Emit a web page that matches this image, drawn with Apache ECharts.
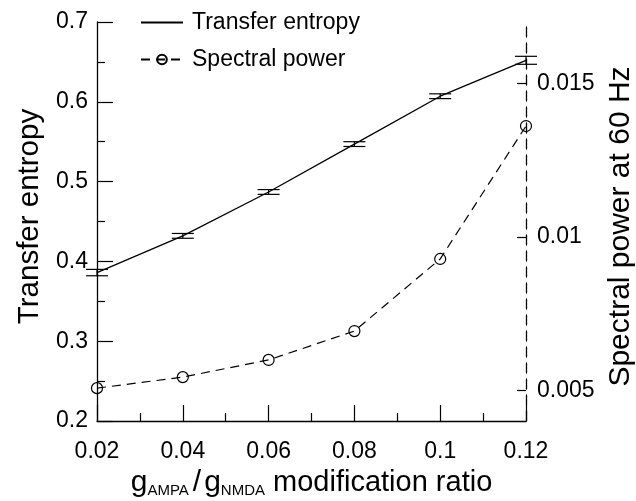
<!DOCTYPE html>
<html>
<head>
<meta charset="utf-8">
<script src="https://cdn.jsdelivr.net/npm/echarts@6/dist/echarts.min.js"></script>
<style>
  html, body { margin: 0; padding: 0; background: #fff; overflow: hidden; }
  #chart { width: 636px; height: 501px; }
</style>
</head>
<body>
<div id="chart"></div>
<script>
// g_AMPA/g_NMDA modification ratios on the x axis
const ratios = [0.02, 0.04, 0.06, 0.08, 0.1, 0.12];
// transfer entropy (left axis) with its error-bar half widths
const transferEntropy = [0.386, 0.432, 0.487, 0.547, 0.607, 0.652];
const transferEntropyErr = [0.004, 0.003, 0.003, 0.003, 0.003, 0.005];
// spectral power at 60 Hz (right axis)
const spectralPower = [0.00507, 0.00543, 0.00599, 0.00693, 0.00928, 0.01361];
// tick values for the right axis
const rightTicks = [0.005, 0.01, 0.015];

const FONT = "'Liberation Sans', Arial, Helvetica, sans-serif";
const INK = '#000';
const NONE = 'rgba(0,0,0,0)';

const chart = echarts.init(document.getElementById('chart'), null, { renderer: 'canvas' });

const tePoints = ratios.map((x, i) => [x, transferEntropy[i]]);
const spPoints = ratios.map((x, i) => [x, spectralPower[i]]);
const errPoints = ratios.map((x, i) => [x, transferEntropy[i], transferEntropyErr[i]]);

function fmt(v) { return String(+v.toFixed(3)); }

const option = {
  backgroundColor: '#fff',
  animation: false,
  textStyle: { fontFamily: FONT, color: INK },
  grid: { left: 97, right: 110, top: 22, bottom: 80, containLabel: false, outerBoundsMode: 'none' },
  legend: {
    orient: 'vertical',
    left: 135,
    top: 6,
    itemWidth: 42,
    itemHeight: 12,
    itemGap: 14,
    data: ['Transfer entropy', 'Spectral power'],
    textStyle: { fontFamily: FONT, fontSize: 23, color: INK, padding: [0, 0, 0, 4] }
  },
  xAxis: {
    type: 'value',
    min: 0.02,
    max: 0.12,
    interval: 0.02,
    name: '{g|g}{s|AMPA}{sl|/}{g|g}{s|NMDA}{t| modification ratio}',
    nameLocation: 'middle',
    nameGap: 40,
    nameTextStyle: {
      rich: {
        g: { fontFamily: FONT, fontSize: 30, color: INK, verticalAlign: 'bottom' },
        s: { fontFamily: FONT, fontSize: 15, color: INK, verticalAlign: 'bottom' },
        sl: { fontFamily: FONT, fontSize: 30, color: INK, verticalAlign: 'bottom', padding: [0, 3, 0, 4] },
        t: { fontFamily: FONT, fontSize: 29, color: INK, verticalAlign: 'bottom' }
      }
    },
    axisLine: { show: true, onZero: false, lineStyle: { color: INK, width: 1.3 } },
    axisTick: { show: true, inside: true, length: 16, lineStyle: { color: INK, width: 1.2 } },
    minorTick: { show: true, splitNumber: 2, length: 8, lineStyle: { color: INK, width: 1.2 } },
    splitLine: { show: false },
    axisLabel: { fontFamily: FONT, fontSize: 23, color: INK, margin: 19, formatter: fmt }
  },
  yAxis: [
    {
      type: 'value',
      position: 'left',
      min: 0.2,
      max: 0.7,
      interval: 0.1,
      name: 'Transfer entropy',
      nameLocation: 'middle',
      nameRotate: 90,
      nameGap: 52,
      nameTextStyle: { fontFamily: FONT, fontSize: 29.5, color: INK, padding: [0, 0, 0, 10] },
      axisLine: { show: true, onZero: false, lineStyle: { color: INK, width: 1.3 } },
      axisTick: { show: true, inside: true, length: 16, lineStyle: { color: INK, width: 1.2 } },
      minorTick: { show: true, splitNumber: 2, length: 8, lineStyle: { color: INK, width: 1.2 } },
      splitLine: { show: false },
      axisLabel: { fontFamily: FONT, fontSize: 23, color: INK, margin: 9, padding: [7, 0, 0, 0], formatter: fmt }
    },
    {
      type: 'value',
      position: 'right',
      min: 0.004,
      max: 0.017,
      name: 'Spectral power at 60 Hz',
      nameLocation: 'middle',
      nameRotate: 90,
      nameGap: 79,
      nameTextStyle: { fontFamily: FONT, fontSize: 30, color: INK, padding: [0, 10, 0, 0] },
      axisLine: { show: true, onZero: false, lineStyle: { color: INK, width: 1.3, type: [10, 6] } },
      axisTick: { show: true, inside: true, length: 9, customValues: rightTicks, lineStyle: { color: INK, width: 1.2 } },
      splitLine: { show: false },
      axisLabel: { fontFamily: FONT, fontSize: 23, color: INK, margin: 11, padding: [6, 0, 0, 0], customValues: rightTicks, formatter: fmt }
    }
  ],
  series: [
    {
      name: 'Transfer entropy',
      type: 'line',
      yAxisIndex: 0,
      data: tePoints,
      symbol: 'none',
      lineStyle: { color: INK, width: 1.3 },
      itemStyle: { color: NONE, borderWidth: 0 },
      z: 3
    },
    {
      name: 'Transfer entropy error',
      type: 'custom',
      yAxisIndex: 0,
      data: errPoints,
      encode: { x: 0, y: 1 },
      clip: false,
      renderItem(params, api) {
        const x = api.value(0);
        const y = api.value(1);
        const e = api.value(2);
        const hi = api.coord([x, y + e]);
        const lo = api.coord([x, y - e]);
        const hw = 11;
        const st = { stroke: INK, lineWidth: 1.2 };
        return {
          type: 'group',
          children: [
            { type: 'line', shape: { x1: hi[0], y1: hi[1], x2: lo[0], y2: lo[1] }, style: st },
            { type: 'line', shape: { x1: hi[0] - hw, y1: hi[1], x2: hi[0] + hw, y2: hi[1] }, style: st },
            { type: 'line', shape: { x1: lo[0] - hw, y1: lo[1], x2: lo[0] + hw, y2: lo[1] }, style: st }
          ]
        };
      },
      z: 4
    },
    {
      name: 'Spectral power',
      type: 'line',
      yAxisIndex: 1,
      data: spPoints,
      symbol: 'circle',
      symbolSize: 11,
      showSymbol: true,
      clip: false,
      lineStyle: { color: INK, width: 1.2, type: [9, 6] },
      itemStyle: { color: NONE, borderColor: INK, borderWidth: 1.2 },
      z: 3
    }
  ]
};

chart.setOption(option);
</script>
</body>
</html>
